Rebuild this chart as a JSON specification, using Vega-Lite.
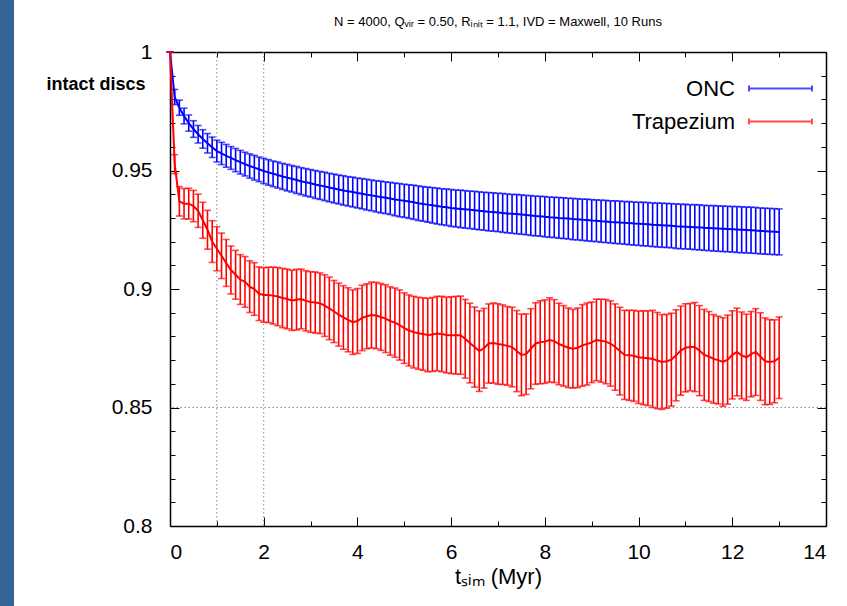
{
  "$schema": "https://vega.github.io/schema/vega-lite/v6.json",
  "width": 656,
  "height": 474,
  "autosize": "none",
  "padding": {"left": 170, "top": 52, "right": 21, "bottom": 80},
  "background": "#326496",
  "config": {
    "view": {"fill": "white", "stroke": "white", "strokeWidth": 312},
    "font": "Liberation Sans",
    "axis": {"domainColor": "black", "tickColor": "black", "labelColor": "black", "titleColor": "black", "grid": false, "labelFont": "Liberation Sans", "titleFont": "Liberation Sans", "domainWidth": 1.5, "tickWidth": 1}
  },
  "title": {"text": "N =  4000,  Qᵥᵢᵣ = 0.50,  Rᵢₙᵢₜ = 1.1,  IVD = Maxwell,  10 Runs", "fontSize": 13, "fontWeight": "normal", "offset": 12, "color": "black", "font": "Liberation Sans"},
  "resolve": {"axis": {"x": "independent", "y": "independent"}},
  "datasets": {
    "vlines": [{"t": 1}, {"t": 2}],
    "hlines": [{"v": 0.85}],
    "runs": [
      {"t":0,"s":"ONC","m":1,"e":0},
      {"t":0.1,"s":"ONC","m":0.981,"e":0.0032},
      {"t":0.2,"s":"ONC","m":0.9765,"e":0.0032},
      {"t":0.3,"s":"ONC","m":0.973,"e":0.0033},
      {"t":0.4,"s":"ONC","m":0.970,"e":0.0034},
      {"t":0.5,"s":"ONC","m":0.9675,"e":0.0035},
      {"t":0.6,"s":"ONC","m":0.9653,"e":0.0037},
      {"t":0.7,"s":"ONC","m":0.9633,"e":0.0039},
      {"t":0.8,"s":"ONC","m":0.9615,"e":0.0041},
      {"t":0.9,"s":"ONC","m":0.9598,"e":0.0043},
      {"t":1.0,"s":"ONC","m":0.9582,"e":0.0046},
      {"t":1.1,"s":"ONC","m":0.9572,"e":0.0047},
      {"t":1.2,"s":"ONC","m":0.9562,"e":0.0048},
      {"t":1.3,"s":"ONC","m":0.9553,"e":0.0048},
      {"t":1.4,"s":"ONC","m":0.9544,"e":0.0049},
      {"t":1.5,"s":"ONC","m":0.9535,"e":0.0050},
      {"t":1.6,"s":"ONC","m":0.9527,"e":0.0050},
      {"t":1.7,"s":"ONC","m":0.9519,"e":0.0051},
      {"t":1.8,"s":"ONC","m":0.9512,"e":0.0052},
      {"t":1.9,"s":"ONC","m":0.9505,"e":0.0052},
      {"t":2.0,"s":"ONC","m":0.9498,"e":0.0053},
      {"t":2.1,"s":"ONC","m":0.9492,"e":0.0054},
      {"t":2.2,"s":"ONC","m":0.9486,"e":0.0054},
      {"t":2.3,"s":"ONC","m":0.9481,"e":0.0055},
      {"t":2.4,"s":"ONC","m":0.9475,"e":0.0055},
      {"t":2.5,"s":"ONC","m":0.9470,"e":0.0056},
      {"t":2.6,"s":"ONC","m":0.9465,"e":0.0056},
      {"t":2.7,"s":"ONC","m":0.9460,"e":0.0057},
      {"t":2.8,"s":"ONC","m":0.9455,"e":0.0057},
      {"t":2.9,"s":"ONC","m":0.9450,"e":0.0058},
      {"t":3.0,"s":"ONC","m":0.9446,"e":0.0058},
      {"t":3.1,"s":"ONC","m":0.9441,"e":0.0059},
      {"t":3.2,"s":"ONC","m":0.9437,"e":0.0059},
      {"t":3.3,"s":"ONC","m":0.9433,"e":0.0060},
      {"t":3.4,"s":"ONC","m":0.9428,"e":0.0060},
      {"t":3.5,"s":"ONC","m":0.9424,"e":0.0061},
      {"t":3.6,"s":"ONC","m":0.9420,"e":0.0061},
      {"t":3.7,"s":"ONC","m":0.9416,"e":0.0062},
      {"t":3.8,"s":"ONC","m":0.9412,"e":0.0062},
      {"t":3.9,"s":"ONC","m":0.9409,"e":0.0063},
      {"t":4.0,"s":"ONC","m":0.9405,"e":0.0063},
      {"t":4.1,"s":"ONC","m":0.9402,"e":0.0064},
      {"t":4.2,"s":"ONC","m":0.9398,"e":0.0065},
      {"t":4.3,"s":"ONC","m":0.9395,"e":0.0065},
      {"t":4.4,"s":"ONC","m":0.9391,"e":0.0066},
      {"t":4.5,"s":"ONC","m":0.9388,"e":0.0067},
      {"t":4.6,"s":"ONC","m":0.9385,"e":0.0067},
      {"t":4.7,"s":"ONC","m":0.9382,"e":0.0068},
      {"t":4.8,"s":"ONC","m":0.9378,"e":0.0069},
      {"t":4.9,"s":"ONC","m":0.9375,"e":0.0070},
      {"t":5.0,"s":"ONC","m":0.9372,"e":0.0070},
      {"t":5.1,"s":"ONC","m":0.9369,"e":0.0071},
      {"t":5.2,"s":"ONC","m":0.9366,"e":0.0072},
      {"t":5.3,"s":"ONC","m":0.9362,"e":0.0073},
      {"t":5.4,"s":"ONC","m":0.9359,"e":0.0073},
      {"t":5.5,"s":"ONC","m":0.9356,"e":0.0074},
      {"t":5.6,"s":"ONC","m":0.9353,"e":0.0075},
      {"t":5.7,"s":"ONC","m":0.9350,"e":0.0076},
      {"t":5.8,"s":"ONC","m":0.9347,"e":0.0076},
      {"t":5.9,"s":"ONC","m":0.9345,"e":0.0077},
      {"t":6.0,"s":"ONC","m":0.9342,"e":0.0078},
      {"t":6.1,"s":"ONC","m":0.9340,"e":0.0078},
      {"t":6.2,"s":"ONC","m":0.9338,"e":0.0079},
      {"t":6.3,"s":"ONC","m":0.9336,"e":0.0079},
      {"t":6.4,"s":"ONC","m":0.9334,"e":0.0079},
      {"t":6.5,"s":"ONC","m":0.9332,"e":0.0080},
      {"t":6.6,"s":"ONC","m":0.9330,"e":0.0080},
      {"t":6.7,"s":"ONC","m":0.9328,"e":0.0080},
      {"t":6.8,"s":"ONC","m":0.9326,"e":0.0081},
      {"t":6.9,"s":"ONC","m":0.9325,"e":0.0081},
      {"t":7.0,"s":"ONC","m":0.9323,"e":0.0081},
      {"t":7.1,"s":"ONC","m":0.9321,"e":0.0082},
      {"t":7.2,"s":"ONC","m":0.9319,"e":0.0082},
      {"t":7.3,"s":"ONC","m":0.9317,"e":0.0082},
      {"t":7.4,"s":"ONC","m":0.9316,"e":0.0083},
      {"t":7.5,"s":"ONC","m":0.9314,"e":0.0083},
      {"t":7.6,"s":"ONC","m":0.9312,"e":0.0083},
      {"t":7.7,"s":"ONC","m":0.9310,"e":0.0084},
      {"t":7.8,"s":"ONC","m":0.9308,"e":0.0084},
      {"t":7.9,"s":"ONC","m":0.9307,"e":0.0084},
      {"t":8.0,"s":"ONC","m":0.9305,"e":0.0085},
      {"t":8.1,"s":"ONC","m":0.9303,"e":0.0085},
      {"t":8.2,"s":"ONC","m":0.9302,"e":0.0085},
      {"t":8.3,"s":"ONC","m":0.9300,"e":0.0086},
      {"t":8.4,"s":"ONC","m":0.9299,"e":0.0086},
      {"t":8.5,"s":"ONC","m":0.9297,"e":0.0086},
      {"t":8.6,"s":"ONC","m":0.9295,"e":0.0087},
      {"t":8.7,"s":"ONC","m":0.9294,"e":0.0087},
      {"t":8.8,"s":"ONC","m":0.9292,"e":0.0087},
      {"t":8.9,"s":"ONC","m":0.9291,"e":0.0088},
      {"t":9.0,"s":"ONC","m":0.9289,"e":0.0088},
      {"t":9.1,"s":"ONC","m":0.9288,"e":0.0088},
      {"t":9.2,"s":"ONC","m":0.9286,"e":0.0089},
      {"t":9.3,"s":"ONC","m":0.9285,"e":0.0089},
      {"t":9.4,"s":"ONC","m":0.9283,"e":0.0089},
      {"t":9.5,"s":"ONC","m":0.9282,"e":0.0090},
      {"t":9.6,"s":"ONC","m":0.9281,"e":0.0090},
      {"t":9.7,"s":"ONC","m":0.9279,"e":0.0090},
      {"t":9.8,"s":"ONC","m":0.9278,"e":0.0091},
      {"t":9.9,"s":"ONC","m":0.9276,"e":0.0091},
      {"t":10.0,"s":"ONC","m":0.9275,"e":0.0091},
      {"t":10.1,"s":"ONC","m":0.9274,"e":0.0092},
      {"t":10.2,"s":"ONC","m":0.9273,"e":0.0092},
      {"t":10.3,"s":"ONC","m":0.9271,"e":0.0092},
      {"t":10.4,"s":"ONC","m":0.9270,"e":0.0093},
      {"t":10.5,"s":"ONC","m":0.9269,"e":0.0093},
      {"t":10.6,"s":"ONC","m":0.9268,"e":0.0093},
      {"t":10.7,"s":"ONC","m":0.9267,"e":0.0093},
      {"t":10.8,"s":"ONC","m":0.9265,"e":0.0094},
      {"t":10.9,"s":"ONC","m":0.9264,"e":0.0094},
      {"t":11.0,"s":"ONC","m":0.9263,"e":0.0094},
      {"t":11.1,"s":"ONC","m":0.9262,"e":0.0094},
      {"t":11.2,"s":"ONC","m":0.9261,"e":0.0095},
      {"t":11.3,"s":"ONC","m":0.9260,"e":0.0095},
      {"t":11.4,"s":"ONC","m":0.9258,"e":0.0095},
      {"t":11.5,"s":"ONC","m":0.9257,"e":0.0095},
      {"t":11.6,"s":"ONC","m":0.9256,"e":0.0096},
      {"t":11.7,"s":"ONC","m":0.9255,"e":0.0096},
      {"t":11.8,"s":"ONC","m":0.9254,"e":0.0096},
      {"t":11.9,"s":"ONC","m":0.9253,"e":0.0096},
      {"t":12.0,"s":"ONC","m":0.9252,"e":0.0096},
      {"t":12.1,"s":"ONC","m":0.9251,"e":0.0097},
      {"t":12.2,"s":"ONC","m":0.9250,"e":0.0097},
      {"t":12.3,"s":"ONC","m":0.9249,"e":0.0097},
      {"t":12.4,"s":"ONC","m":0.9248,"e":0.0097},
      {"t":12.5,"s":"ONC","m":0.9247,"e":0.0097},
      {"t":12.6,"s":"ONC","m":0.9245,"e":0.0097},
      {"t":12.7,"s":"ONC","m":0.9244,"e":0.0097},
      {"t":12.8,"s":"ONC","m":0.9243,"e":0.0097},
      {"t":12.9,"s":"ONC","m":0.9242,"e":0.0097},
      {"t":13.0,"s":"ONC","m":0.9241,"e":0.0097},
      {"t":0,"s":"Trapezium","m":1,"e":0},
      {"t":0.1,"s":"Trapezium","m":0.9527,"e":0.0040},
      {"t":0.2,"s":"Trapezium","m":0.937,"e":0.0062},
      {"t":0.3,"s":"Trapezium","m":0.936,"e":0.0064},
      {"t":0.4,"s":"Trapezium","m":0.936,"e":0.0065},
      {"t":0.5,"s":"Trapezium","m":0.935,"e":0.0066},
      {"t":0.6,"s":"Trapezium","m":0.933,"e":0.0070},
      {"t":0.7,"s":"Trapezium","m":0.929,"e":0.0076},
      {"t":0.8,"s":"Trapezium","m":0.925,"e":0.0082},
      {"t":0.9,"s":"Trapezium","m":0.920,"e":0.0088},
      {"t":1.0,"s":"Trapezium","m":0.917,"e":0.0093},
      {"t":1.1,"s":"Trapezium","m":0.914,"e":0.0096},
      {"t":1.2,"s":"Trapezium","m":0.911,"e":0.0099},
      {"t":1.3,"s":"Trapezium","m":0.908,"e":0.0101},
      {"t":1.4,"s":"Trapezium","m":0.906,"e":0.0103},
      {"t":1.5,"s":"Trapezium","m":0.904,"e":0.0105},
      {"t":1.6,"s":"Trapezium","m":0.903,"e":0.0107},
      {"t":1.7,"s":"Trapezium","m":0.901,"e":0.0109},
      {"t":1.8,"s":"Trapezium","m":0.900,"e":0.0111},
      {"t":1.9,"s":"Trapezium","m":0.898,"e":0.0113},
      {"t":2.0,"s":"Trapezium","m":0.8975,"e":0.0115},
      {"t":2.1,"s":"Trapezium","m":0.8975,"e":0.0117},
      {"t":2.2,"s":"Trapezium","m":0.8972,"e":0.0120},
      {"t":2.3,"s":"Trapezium","m":0.8968,"e":0.0123},
      {"t":2.4,"s":"Trapezium","m":0.8962,"e":0.0125},
      {"t":2.5,"s":"Trapezium","m":0.8958,"e":0.0126},
      {"t":2.6,"s":"Trapezium","m":0.8952,"e":0.0127},
      {"t":2.7,"s":"Trapezium","m":0.8955,"e":0.0128},
      {"t":2.8,"s":"Trapezium","m":0.8958,"e":0.0126},
      {"t":2.9,"s":"Trapezium","m":0.8950,"e":0.0127},
      {"t":3.0,"s":"Trapezium","m":0.8945,"e":0.0128},
      {"t":3.1,"s":"Trapezium","m":0.8943,"e":0.0129},
      {"t":3.2,"s":"Trapezium","m":0.8940,"e":0.0128},
      {"t":3.3,"s":"Trapezium","m":0.8930,"e":0.0130},
      {"t":3.4,"s":"Trapezium","m":0.8918,"e":0.0132},
      {"t":3.5,"s":"Trapezium","m":0.8905,"e":0.0131},
      {"t":3.6,"s":"Trapezium","m":0.8892,"e":0.0133},
      {"t":3.7,"s":"Trapezium","m":0.8880,"e":0.0134},
      {"t":3.8,"s":"Trapezium","m":0.8870,"e":0.0135},
      {"t":3.9,"s":"Trapezium","m":0.8860,"e":0.0136},
      {"t":4.0,"s":"Trapezium","m":0.8865,"e":0.0137},
      {"t":4.1,"s":"Trapezium","m":0.8878,"e":0.0138},
      {"t":4.2,"s":"Trapezium","m":0.8885,"e":0.0137},
      {"t":4.3,"s":"Trapezium","m":0.8890,"e":0.0139},
      {"t":4.4,"s":"Trapezium","m":0.8888,"e":0.0140},
      {"t":4.5,"s":"Trapezium","m":0.8882,"e":0.0141},
      {"t":4.6,"s":"Trapezium","m":0.8875,"e":0.0143},
      {"t":4.7,"s":"Trapezium","m":0.8865,"e":0.0144},
      {"t":4.8,"s":"Trapezium","m":0.8858,"e":0.0146},
      {"t":4.9,"s":"Trapezium","m":0.8848,"e":0.0148},
      {"t":5.0,"s":"Trapezium","m":0.8835,"e":0.0149},
      {"t":5.1,"s":"Trapezium","m":0.8825,"e":0.0150},
      {"t":5.2,"s":"Trapezium","m":0.8818,"e":0.0151},
      {"t":5.3,"s":"Trapezium","m":0.8813,"e":0.0152},
      {"t":5.4,"s":"Trapezium","m":0.8810,"e":0.0153},
      {"t":5.5,"s":"Trapezium","m":0.8806,"e":0.0155},
      {"t":5.6,"s":"Trapezium","m":0.8808,"e":0.0156},
      {"t":5.7,"s":"Trapezium","m":0.8812,"e":0.0157},
      {"t":5.8,"s":"Trapezium","m":0.8810,"e":0.0159},
      {"t":5.9,"s":"Trapezium","m":0.8806,"e":0.0160},
      {"t":6.0,"s":"Trapezium","m":0.8805,"e":0.0162},
      {"t":6.1,"s":"Trapezium","m":0.8805,"e":0.0164},
      {"t":6.2,"s":"Trapezium","m":0.8805,"e":0.0165},
      {"t":6.3,"s":"Trapezium","m":0.8790,"e":0.0166},
      {"t":6.4,"s":"Trapezium","m":0.8772,"e":0.0168},
      {"t":6.5,"s":"Trapezium","m":0.8755,"e":0.0169},
      {"t":6.6,"s":"Trapezium","m":0.8738,"e":0.0170},
      {"t":6.7,"s":"Trapezium","m":0.8750,"e":0.0168},
      {"t":6.8,"s":"Trapezium","m":0.8770,"e":0.0167},
      {"t":6.9,"s":"Trapezium","m":0.8772,"e":0.0169},
      {"t":7.0,"s":"Trapezium","m":0.8768,"e":0.0170},
      {"t":7.1,"s":"Trapezium","m":0.8765,"e":0.0168},
      {"t":7.2,"s":"Trapezium","m":0.8760,"e":0.0166},
      {"t":7.3,"s":"Trapezium","m":0.8755,"e":0.0168},
      {"t":7.4,"s":"Trapezium","m":0.8738,"e":0.0171},
      {"t":7.5,"s":"Trapezium","m":0.8722,"e":0.0172},
      {"t":7.6,"s":"Trapezium","m":0.8725,"e":0.0170},
      {"t":7.7,"s":"Trapezium","m":0.8748,"e":0.0169},
      {"t":7.8,"s":"Trapezium","m":0.8770,"e":0.0172},
      {"t":7.9,"s":"Trapezium","m":0.8775,"e":0.0175},
      {"t":8.0,"s":"Trapezium","m":0.8778,"e":0.0176},
      {"t":8.1,"s":"Trapezium","m":0.8785,"e":0.0178},
      {"t":8.2,"s":"Trapezium","m":0.8780,"e":0.0175},
      {"t":8.3,"s":"Trapezium","m":0.8768,"e":0.0172},
      {"t":8.4,"s":"Trapezium","m":0.8760,"e":0.0170},
      {"t":8.5,"s":"Trapezium","m":0.8752,"e":0.0168},
      {"t":8.6,"s":"Trapezium","m":0.8748,"e":0.0166},
      {"t":8.7,"s":"Trapezium","m":0.8752,"e":0.0168},
      {"t":8.8,"s":"Trapezium","m":0.8762,"e":0.0172},
      {"t":8.9,"s":"Trapezium","m":0.8768,"e":0.0173},
      {"t":9.0,"s":"Trapezium","m":0.8775,"e":0.0170},
      {"t":9.1,"s":"Trapezium","m":0.8785,"e":0.0172},
      {"t":9.2,"s":"Trapezium","m":0.8782,"e":0.0175},
      {"t":9.3,"s":"Trapezium","m":0.8778,"e":0.0178},
      {"t":9.4,"s":"Trapezium","m":0.8770,"e":0.0180},
      {"t":9.5,"s":"Trapezium","m":0.8755,"e":0.0182},
      {"t":9.6,"s":"Trapezium","m":0.8738,"e":0.0185},
      {"t":9.7,"s":"Trapezium","m":0.8722,"e":0.0188},
      {"t":9.8,"s":"Trapezium","m":0.8720,"e":0.0190},
      {"t":9.9,"s":"Trapezium","m":0.8718,"e":0.0192},
      {"t":10.0,"s":"Trapezium","m":0.8712,"e":0.0195},
      {"t":10.1,"s":"Trapezium","m":0.8710,"e":0.0198},
      {"t":10.2,"s":"Trapezium","m":0.8708,"e":0.0200},
      {"t":10.3,"s":"Trapezium","m":0.8705,"e":0.0205},
      {"t":10.4,"s":"Trapezium","m":0.8698,"e":0.0203},
      {"t":10.5,"s":"Trapezium","m":0.8692,"e":0.0200},
      {"t":10.6,"s":"Trapezium","m":0.8695,"e":0.0198},
      {"t":10.7,"s":"Trapezium","m":0.8702,"e":0.0196},
      {"t":10.8,"s":"Trapezium","m":0.8720,"e":0.0192},
      {"t":10.9,"s":"Trapezium","m":0.8740,"e":0.0188},
      {"t":11.0,"s":"Trapezium","m":0.8752,"e":0.0186},
      {"t":11.1,"s":"Trapezium","m":0.8755,"e":0.0184},
      {"t":11.2,"s":"Trapezium","m":0.8755,"e":0.0188},
      {"t":11.3,"s":"Trapezium","m":0.8740,"e":0.0190},
      {"t":11.4,"s":"Trapezium","m":0.8722,"e":0.0192},
      {"t":11.5,"s":"Trapezium","m":0.8715,"e":0.0190},
      {"t":11.6,"s":"Trapezium","m":0.8705,"e":0.0187},
      {"t":11.7,"s":"Trapezium","m":0.8700,"e":0.0185},
      {"t":11.8,"s":"Trapezium","m":0.8692,"e":0.0187},
      {"t":11.9,"s":"Trapezium","m":0.8702,"e":0.0188},
      {"t":12.0,"s":"Trapezium","m":0.8722,"e":0.0186},
      {"t":12.1,"s":"Trapezium","m":0.8734,"e":0.0185},
      {"t":12.2,"s":"Trapezium","m":0.8720,"e":0.0183},
      {"t":12.3,"s":"Trapezium","m":0.8712,"e":0.0182},
      {"t":12.4,"s":"Trapezium","m":0.8725,"e":0.0180},
      {"t":12.5,"s":"Trapezium","m":0.8734,"e":0.0183},
      {"t":12.6,"s":"Trapezium","m":0.8715,"e":0.0185},
      {"t":12.7,"s":"Trapezium","m":0.8695,"e":0.0183},
      {"t":12.8,"s":"Trapezium","m":0.8692,"e":0.0179},
      {"t":12.9,"s":"Trapezium","m":0.8695,"e":0.0175},
      {"t":13.0,"s":"Trapezium","m":0.8710,"e":0.0172}
    ]
  },
  "layer": [
    {
      "data": {"name": "vlines"},
      "mark": {"type": "rule", "color": "#8a8a8a", "strokeDash": [1.5, 2.5], "strokeWidth": 1},
      "encoding": {
        "x": {"field": "t", "type": "quantitative", "scale": {"domain": [0, 14], "nice": false, "zero": false},
          "axis": {"orient": "bottom", "values": [0, 2, 4, 6, 8, 10, 12, 14], "format": "d", "tickSize": -9, "labelPadding": 24, "labelFontSize": 21, "title": "tₛᵢₘ (Myr)", "titleFontSize": 22, "titleFontWeight": "normal", "titlePadding": 4}}
      }
    },
    {
      "data": {"name": "hlines"},
      "mark": {"type": "rule", "color": "#8a8a8a", "strokeDash": [1.5, 2.5], "strokeWidth": 1},
      "encoding": {
        "y": {"field": "v", "type": "quantitative", "scale": {"domain": [0.8, 1.0], "nice": false, "zero": false},
          "axis": {"orient": "left", "values": [0.8, 0.85, 0.9, 0.95, 1], "format": "~g", "tickSize": -9, "labelPadding": 27, "labelFontSize": 21, "title": "intact discs", "titleAngle": 0, "titleFontSize": 18, "titleFontWeight": "bold", "titleAlign": "right", "titleBaseline": "middle", "titleX": -25, "titleY": 32}}
      }
    },
    {
      "data": {"name": "runs"},
      "mark": {"type": "errorbar", "ticks": {"size": 7, "thickness": 1.6}, "rule": {"strokeWidth": 1.6}},
      "encoding": {
        "x": {"field": "t", "type": "quantitative", "scale": {"domain": [0, 14], "nice": false, "zero": false},
          "axis": {"orient": "top", "values": [0, 2, 4, 6, 8, 10, 12, 14], "tickSize": -9, "labels": false, "title": null}},
        "y": {"field": "m", "type": "quantitative", "scale": {"domain": [0.8, 1.0], "nice": false, "zero": false},
          "axis": {"orient": "right", "values": [0.8, 0.85, 0.9, 0.95, 1], "tickSize": -9, "labels": false, "title": null}},
        "yError": {"field": "e"},
        "color": {"field": "s", "type": "nominal", "scale": {"domain": ["ONC", "Trapezium"], "range": ["#0000ff", "#ff0000"]},
          "legend": {"orient": "none", "legendX": 599, "legendY": 25, "title": null, "padding": 0, "symbolType": "M-3,-0.29V0.29M-3,0H3M3,-0.29V0.29", "symbolSize": 441, "symbolStrokeWidth": 2, "symbolFillColor": "transparent", "labelFontSize": 22, "labelFont": "Liberation Sans", "labelColor": "black", "labelAlign": "right", "labelOffset": -57, "rowPadding": 10}}
      }
    },
    {
      "data": {"name": "runs"},
      "transform": [{"filter": "datum.s === 'ONC'"}],
      "mark": {"type": "line", "strokeWidth": 2},
      "encoding": {
        "x": {"field": "t", "type": "quantitative", "scale": {"domain": [0, 14], "nice": false, "zero": false},
          "axis": {"orient": "bottom", "values": [1, 3, 5, 7, 9, 11, 13], "tickSize": -5, "labels": false, "domain": false, "title": null}},
        "y": {"field": "m", "type": "quantitative", "scale": {"domain": [0.8, 1.0], "nice": false, "zero": false},
          "axis": {"orient": "left", "values": [0.81, 0.82, 0.83, 0.84, 0.86, 0.87, 0.88, 0.89, 0.91, 0.92, 0.93, 0.94, 0.96, 0.97, 0.98, 0.99], "tickSize": -5, "labels": false, "domain": false, "title": null}},
        "color": {"field": "s", "type": "nominal"}
      }
    },
    {
      "data": {"name": "runs"},
      "transform": [{"filter": "datum.s === 'Trapezium'"}],
      "mark": {"type": "line", "strokeWidth": 2},
      "encoding": {
        "x": {"field": "t", "type": "quantitative", "scale": {"domain": [0, 14], "nice": false, "zero": false},
          "axis": {"orient": "top", "values": [1, 3, 5, 7, 9, 11, 13], "tickSize": -5, "labels": false, "domain": false, "title": null}},
        "y": {"field": "m", "type": "quantitative", "scale": {"domain": [0.8, 1.0], "nice": false, "zero": false},
          "axis": {"orient": "right", "values": [0.81, 0.82, 0.83, 0.84, 0.86, 0.87, 0.88, 0.89, 0.91, 0.92, 0.93, 0.94, 0.96, 0.97, 0.98, 0.99], "tickSize": -5, "labels": false, "domain": false, "title": null}},
        "color": {"field": "s", "type": "nominal"}
      }
    }
  ]
}
